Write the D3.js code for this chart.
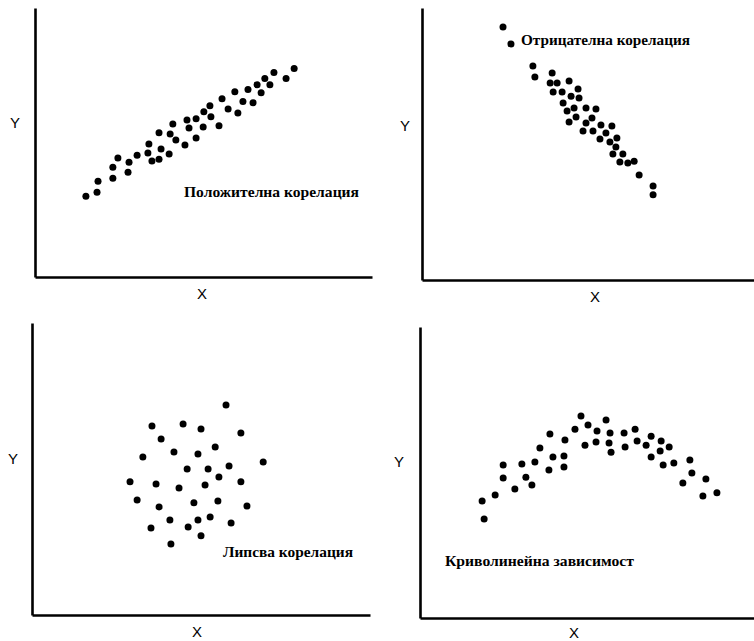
<!DOCTYPE html>
<html>
<head>
<meta charset="utf-8">
<script src="https://cdn.jsdelivr.net/npm/d3@7"></script>
<style>
  body { margin: 0; background: #fff; }
  .axis path { stroke: #000; stroke-width: 2.6; }
  .lbl { font-family: "Liberation Sans", Arial, sans-serif; font-size: 15px; }
  .note { font-family: "Liberation Serif", "Times New Roman", serif; font-weight: bold; font-size: 15.5px; }
</style>
</head>
<body>
<svg width="754" height="641"></svg>
<script>
// values, 0..100 along each axis
const posX = [15.1, 18.4, 18.7, 23.1, 23.1, 24.6, 27.6, 27.9, 30.3, 33.5, 33.8, 34.7, 36.8, 37.4, 36.8, 39.8, 40.1, 40.9, 41.8, 44.5, 45.1, 45.7, 47.8, 47.8, 49.9, 50.1, 51.9, 52.2, 54.6, 55.5, 57.3, 59.3, 60.2, 61.7, 63.2, 64.7, 65.9, 67.1, 68.2, 69.7, 70.9, 74.5, 76.9]
const posY = [30.0, 31.5, 35.6, 36.7, 40.8, 44.2, 38.9, 42.7, 45.3, 46.1, 49.4, 43.1, 43.8, 47.6, 53.6, 45.7, 53.2, 56.9, 50.9, 49.1, 58.4, 55.4, 58.8, 51.7, 55.8, 61.4, 63.7, 59.6, 56.2, 66.3, 62.5, 68.9, 61.0, 65.2, 69.7, 64.8, 71.5, 68.5, 73.8, 71.5, 76.0, 73.8, 77.5]

const negX = [24.4, 26.8, 33.4, 34.0, 39.2, 38.6, 40.7, 44.3, 39.5, 42.2, 47.0, 44.9, 47.3, 42.5, 45.8, 43.7, 49.4, 52.4, 46.4, 51.2, 44.3, 49.4, 53.9, 57.2, 48.5, 51.5, 55.4, 58.7, 53.6, 56.6, 58.4, 57.5, 60.5, 59.6, 62.0, 63.9, 65.4, 69.6, 69.6]
const negY = [93.0, 86.8, 78.7, 74.6, 76.1, 72.4, 72.4, 73.2, 69.1, 69.1, 70.2, 67.6, 66.9, 65.1, 63.2, 62.1, 63.2, 62.9, 59.9, 59.6, 58.1, 57.7, 57.0, 56.6, 54.8, 54.8, 54.0, 52.2, 51.8, 50.7, 48.9, 46.3, 46.3, 43.4, 43.0, 43.7, 38.6, 34.6, 31.3]

const noneX = [57.4, 35.5, 44.7, 50.0, 61.8, 38.2, 54.2, 42.0, 49.1, 32.8, 68.4, 58.3, 45.9, 52.1, 55.3, 29.0, 36.7, 51.2, 61.8, 43.5, 31.1, 47.9, 55.0, 37.6, 63.6, 52.7, 40.8, 49.1, 58.9, 35.2, 46.2, 50.0, 41.1]
const noneY = [71.9, 64.7, 65.4, 63.7, 62.3, 60.3, 57.5, 55.8, 55.1, 54.1, 52.4, 51.0, 50.0, 50.0, 47.3, 45.6, 44.9, 44.5, 45.6, 43.5, 39.4, 38.4, 39.0, 37.0, 37.3, 33.6, 32.5, 32.5, 31.5, 29.8, 30.1, 27.1, 24.3]

const curveX = [18.6, 19.2, 22.5, 24.9, 24.9, 28.4, 30.5, 31.7, 33.5, 34.4, 35.9, 38.6, 38.9, 39.8, 43.1, 43.1, 43.4, 46.4, 48.2, 49.4, 50.3, 53.0, 52.7, 55.7, 56.9, 56.6, 57.2, 61.1, 61.4, 64.4, 65.0, 67.7, 69.2, 69.2, 72.2, 71.9, 72.8, 74.6, 76.0, 78.7, 80.8, 81.4, 85.6, 84.7, 88.9]
const curveY = [40.2, 34.0, 42.3, 52.6, 48.1, 44.3, 52.9, 48.4, 45.7, 53.6, 58.4, 50.9, 63.2, 55.3, 51.9, 55.7, 61.2, 64.9, 69.4, 59.4, 66.3, 64.3, 60.5, 68.0, 63.6, 60.1, 57.0, 63.6, 58.8, 64.9, 60.8, 59.4, 62.5, 55.3, 60.8, 57.4, 52.6, 58.8, 53.3, 46.4, 54.3, 49.8, 47.8, 41.9, 43.0]

const notes = ["Положителна корелация", "Отрицателна корелация", "Липсва корелация", "Криволинейна зависимост"]

const svg = d3.select('svg')

// panel layout: axis box and label spots
const panels = [
    { xs: posX, ys: posY, note: notes[0], x0: 35, x1: 372, y0: 277, y1: 8,
      yl: [15, 128], xl: [202, 299], nt: [184, 197, 175] },
    { xs: negX, ys: negY, note: notes[1], x0: 422, x1: 754, y0: 280, y1: 8,
      yl: [405, 131], xl: [595, 302], nt: [521, 45, 169] },
    { xs: noneX, ys: noneY, note: notes[2], x0: 32, x1: 370, y0: 615, y1: 323,
      yl: [13, 464], xl: [197, 637], nt: [223, 557, 130] },
    { xs: curveX, ys: curveY, note: notes[3], x0: 420, x1: 754, y0: 618, y1: 327,
      yl: [399, 467], xl: [574, 638], nt: [445, 566, 189] }
]

panels.forEach(p => {
    const x = d3.scaleLinear().domain([0, 100]).range([p.x0, p.x1])
    const y = d3.scaleLinear().domain([0, 100]).range([p.y0, p.y1])

    svg.append('g').attr('class', 'axis')
        .attr('transform', `translate(0,${p.y0})`)
        .call(d3.axisBottom(x).tickValues([]).tickSizeOuter(0))
    svg.append('g').attr('class', 'axis')
        .attr('transform', `translate(${p.x0},0)`)
        .call(d3.axisLeft(y).tickValues([]).tickSizeOuter(0))

    svg.append('g').selectAll('circle')
        .data(p.xs.map((v, i) => [v, p.ys[i]]))
        .enter().append('circle')
        .attr('cx', d => x(d[0]))
        .attr('cy', d => y(d[1]))
        .attr('r', 3.5)
        .attr('fill', '#000')

    svg.append('text').attr('class', 'lbl')
        .attr('x', p.yl[0]).attr('y', p.yl[1])
        .attr('text-anchor', 'middle').text('Y')
    svg.append('text').attr('class', 'lbl')
        .attr('x', p.xl[0]).attr('y', p.xl[1])
        .attr('text-anchor', 'middle').text('X')

    svg.append('text').attr('class', 'note')
        .attr('x', p.nt[0]).attr('y', p.nt[1])
        .attr('textLength', p.nt[2])
        .attr('lengthAdjust', 'spacingAndGlyphs')
        .text(p.note)
})
</script>
</body>
</html>
